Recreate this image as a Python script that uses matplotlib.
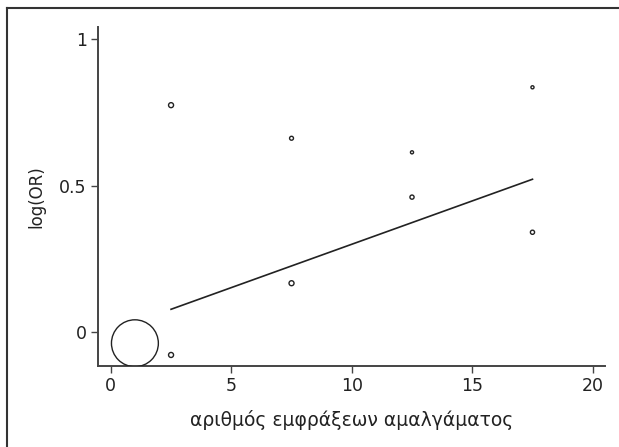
import numpy as np
import matplotlib.pyplot as plt
from matplotlib.lines import Line2D

plt.rcParams['font.family'] = ['DejaVu Sans']

# study-level data (number of amalgam fillings vs log OR), bubble size ~ weight
fillings = [1, 2.5, 2.5, 7.5, 7.5, 12.5, 12.5, 17.5, 17.5]
log_or = [-0.038, -0.078, 0.775, 0.167, 0.662, 0.461, 0.614, 0.341, 0.836]
weights = [1140, 13, 13, 13, 8, 9, 5, 9, 5]

# fitted meta-regression line
fit_x = [2.5, 17.5]
fit_y = [0.078, 0.522]

xticks = [0, 5, 10, 15, 20]
yticks = [0, 0.5, 1]
yticklabels = ['0', '0.5', '1']

fig = plt.figure(figsize=(6.19, 4.47), dpi=100)
ax = fig.add_axes([0.158, 0.181, 0.819, 0.758])

ax.scatter(fillings, log_or, s=weights, facecolors='none', edgecolors='#222222',
           linewidths=1.0, zorder=3)
ax.plot(fit_x, fit_y, color='#222222', lw=1.2)

ax.set_xlim(-0.54, 20.5)
ax.set_ylim(-0.116, 1.041)
ax.set_xticks(xticks)
ax.set_yticks(yticks)
ax.set_yticklabels(yticklabels)

for s in ['top', 'right']:
    ax.spines[s].set_visible(False)
for s in ['left', 'bottom']:
    ax.spines[s].set_color('#444444')
    ax.spines[s].set_linewidth(1.4)
ax.tick_params(direction='out', length=5, width=1.0, color='#444444',
               labelsize=12.5, labelcolor='#222222', pad=3)

ax.set_xlabel('αριθμός εμφράξεων αμαλγάματος', fontsize=13.5, color='#222222', labelpad=11)
ax.set_ylabel('log(OR)', fontsize=12, color='#222222', labelpad=10)

# outer frame (only top and left visible in the source)
fig.add_artist(Line2D([0.012, 1.0], [0.983, 0.983], transform=fig.transFigure,
                      color='#333333', lw=1.5))
fig.add_artist(Line2D([0.012, 0.012], [0.0, 0.983], transform=fig.transFigure,
                      color='#333333', lw=1.5))

fig.savefig('out.png', dpi=100)
